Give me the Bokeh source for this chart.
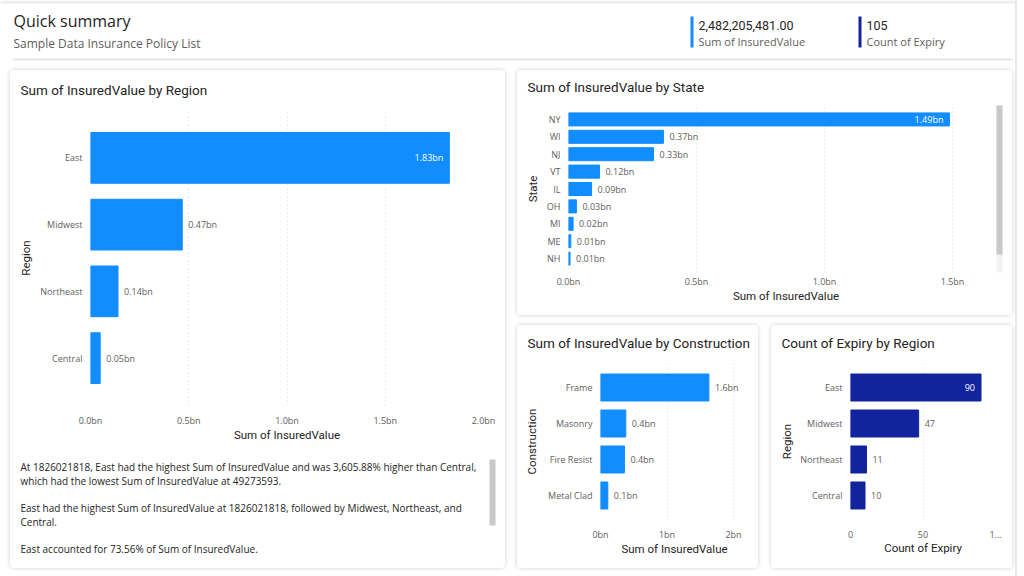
from bokeh.plotting import figure
from bokeh.layouts import column, row
from bokeh.models import FactorRange, Range1d, FixedTicker, CustomJSTickFormatter, ColumnDataSource
from bokeh.transform import dodge
from bokeh.core.properties import value
from bokeh.embed import file_html
from bokeh.resources import INLINE

# ---------------- data ----------------
region_names = ["East", "Midwest", "Northeast", "Central"]
region_values = [1826021818, 467000000, 139910070, 49273593]
region_ticks = [0, 0.5e9, 1.0e9, 1.5e9, 2.0e9]

state_names = ["NY", "WI", "NJ", "VT", "IL", "OH", "MI", "ME", "NH"]
state_values = [1.488e9, 0.371e9, 0.332e9, 0.121e9, 0.090e9, 0.031e9, 0.018e9, 0.009e9, 0.006e9]
state_ticks = [0, 0.5e9, 1.0e9, 1.5e9]

construction_names = ["Frame", "Masonry", "Fire Resist", "Metal Clad"]
construction_values = [1.63e9, 0.38e9, 0.36e9, 0.11e9]
construction_ticks = [0, 1e9, 2e9]

expiry_regions = ["East", "Midwest", "Northeast", "Central"]
expiry_counts = [90, 47, 11, 10]
expiry_ticks = [0, 50, 100]

kpi_count = 105

narrative_lines = [
    "At 1826021818, East had the highest Sum of InsuredValue and was 3,605.88% higher than Central,",
    "which had the lowest Sum of InsuredValue at 49273593.",
    "East had the highest Sum of InsuredValue at 1826021818, followed by Midwest, Northeast, and",
    "Central.",
    "East accounted for 73.56% of Sum of InsuredValue.",
]

BLUE = "#118DFF"
NAVY = "#12239E"
DARK = "#252423"
GRAY = "#605e5c"
TITLE_FONT = "Roboto"
BODY_FONT = "Open Sans"
CARD = {"box-shadow": "0 0 4px rgba(0,0,0,0.20)", "border-radius": "4px", "overflow": "hidden"}


def bar_chart(title, names, values, ticks, tick_code, label_fmt, color, x_label, y_label,
              width, height, borders, frame_px_per_unit, bar_h, pad, tick_standoff, ylab_standoff,
              xlab_standoff, title_center):
    left, right, top, bottom = borders
    frame_w = width - left - right
    x_end = frame_w / frame_px_per_unit
    p = figure(width=width, height=height, title=title,
               y_range=FactorRange(factors=list(reversed(names)), range_padding=pad,
                                   range_padding_units="absolute"),
               x_range=Range1d(0, x_end),
               output_backend="svg", toolbar_location=None,
               min_border_left=left, min_border_right=right,
               min_border_top=top, min_border_bottom=bottom)
    p.title.align = "left"
    p.title.vertical_align = "top"
    p.title.offset = 10 - left
    p.title.standoff = max(0, min(top - 18, 2 * (top - 2 - 8 - title_center)))
    p.title.text_font = TITLE_FONT
    p.title.text_font_size = "13.5px"
    p.title.text_font_style = "normal"
    p.title.text_color = DARK
    p.outline_line_color = None
    p.background_fill_color = "white"
    p.border_fill_color = "white"

    xa = p.xaxis[0]
    xa.ticker = FixedTicker(ticks=ticks)
    xa.formatter = CustomJSTickFormatter(code=tick_code)
    ya = p.yaxis[0]
    for ax in (xa, ya):
        ax.axis_line_color = None
        ax.major_tick_line_color = None
        ax.minor_tick_line_color = None
        ax.major_tick_out = 0
        ax.major_tick_in = 0
        ax.minor_tick_out = 0
        ax.major_label_text_font = BODY_FONT
        ax.major_label_text_font_size = "9px"
        ax.major_label_text_color = GRAY
        ax.axis_label_text_font = TITLE_FONT
        ax.axis_label_text_font_size = "11.5px"
        ax.axis_label_text_font_style = "normal"
        ax.axis_label_text_color = DARK
    xa.axis_label = x_label
    ya.axis_label = y_label
    xa.major_label_standoff = tick_standoff
    xa.axis_label_standoff = xlab_standoff
    ya.major_label_standoff = 8
    ya.axis_label_standoff = ylab_standoff

    p.xgrid.ticker = FixedTicker(ticks=ticks)
    p.xgrid.grid_line_color = "#d9d9d9"
    p.xgrid.grid_line_dash = "1 3"
    p.ygrid.grid_line_color = None

    src = ColumnDataSource(dict(name=names, val=values))
    p.hbar(y="name", left=0, right="val", height=bar_h, source=src,
           fill_color=color, line_color=color)

    limit = 0.85 * ticks[-1]
    inside = dict(name=[n for n, v in zip(names, values) if v > limit],
                  val=[v for v in values if v > limit],
                  lab=[label_fmt(v) for v in values if v > limit])
    outside = dict(name=[n for n, v in zip(names, values) if v <= limit],
                   val=[v for v in values if v <= limit],
                   lab=[label_fmt(v) for v in values if v <= limit])
    p.text(x="val", y="name", text="lab", source=ColumnDataSource(inside),
           text_align="right", text_baseline="middle", x_offset=-6,
           text_color="white", text_font=value(BODY_FONT), text_font_size="9px")
    p.text(x="val", y="name", text="lab", source=ColumnDataSource(outside),
           text_align="left", text_baseline="middle", x_offset=6,
           text_color=GRAY, text_font=value(BODY_FONT), text_font_size="9px")
    return p


bn1 = "return (tick/1e9).toFixed(1) + 'bn';"
bn0 = "return (tick/1e9).toFixed(0) + 'bn';"
cnt = "return tick >= 100 ? '1...' : tick.toString();"

# Region chart (left card, top part)
region_fig = bar_chart("Sum of InsuredValue by Region", region_names, region_values, region_ticks,
                       bn1, lambda v: f"{v/1e9:.2f}bn", BLUE, "Sum of InsuredValue", "Region",
                       495, 378, (80, 22, 40, 43), 393 / 2e9, 0.76, 0.21, 8, 4, -2, 16.5)

# State chart with a scrollbar drawn inside the frame area
state_px = 384 / 1.5e9
state_fig = bar_chart("Sum of InsuredValue by State", state_names, state_values, state_ticks,
                      bn1, lambda v: f"{v/1e9:.2f}bn", BLUE, "Sum of InsuredValue", "State",
                      495, 245, (51, 9, 35, 43), state_px, 0.75, 0.3, 2, 4, -2, 16.5)
sf_w = 495 - 51 - 9
sb = ColumnDataSource(dict(l=[(sf_w - 7) / state_px], r=[(sf_w - 1) / state_px],
                           t=[state_names[0]], b=[state_names[-1]]))
state_fig.quad(left="l", right="r", top=dodge("t", 1.0, range=state_fig.y_range),
               bottom=dodge("b", -1.0, range=state_fig.y_range), source=sb,
               fill_color="#f1f1f1", line_color=None)
state_fig.quad(left="l", right="r", top=dodge("t", 1.0, range=state_fig.y_range),
               bottom=dodge("b", 0.23, range=state_fig.y_range), source=sb,
               fill_color="#c8c8c8", line_color=None)

construction_fig = bar_chart("Sum of InsuredValue by Construction", construction_names, construction_values,
                             construction_ticks, bn0, lambda v: f"{v/1e9:.1f}bn", BLUE,
                             "Sum of InsuredValue", "Construction",
                             241, 243, (83, 10, 37, 48), 133 / 2e9, 0.75, 0.195, 7, 6, -2, 16.5)

expiry_fig = bar_chart("Count of Expiry by Region", expiry_regions, expiry_counts, expiry_ticks,
                       cnt, lambda v: f"{v}", NAVY, "Count of Expiry", "Region",
                       241, 243, (79, 17, 37, 48), 145 / 100, 0.75, 0.195, 10, 3, 0, 16.5)


def blank(w, h):
    f = figure(width=w, height=h, x_range=Range1d(0, w), y_range=Range1d(h, 0),
               x_axis_location=None, y_axis_location=None, min_border=0,
               toolbar_location=None, output_backend="svg")
    f.grid.visible = False
    f.outline_line_color = None
    f.background_fill_color = "white"
    f.border_fill_color = "white"
    return f


# Narrative (left card, bottom part)
narr = blank(495, 120)
narr.text(x=[10] * 5, y=[18, 32, 59, 73, 100], text=narrative_lines,
          text_font=value(BODY_FONT), text_font_size="10px", text_color=DARK, text_baseline="middle")
narr.quad(left=[479], right=[485], top=[11], bottom=[77], fill_color="#c8c8c8", line_color=None)

# Header
header = blank(1015, 66)
header.quad(left=[0], right=[1015], top=[0], bottom=[3], fill_color="#eeeeee", line_color=None)
header.text(x=[13], y=[20], text=["Quick summary"], text_font=value(BODY_FONT),
            text_font_size="16px", text_color=DARK, text_baseline="middle")
header.text(x=[13], y=[43], text=["Sample Data Insurance Policy List"], text_font=value(BODY_FONT),
            text_font_size="12px", text_color=GRAY, text_baseline="middle")
kpi_values = [f"{sum(region_values):,.2f}", f"{kpi_count}"]
kpi_labels = ["Sum of InsuredValue", "Count of Expiry"]
kpi_colors = [BLUE, NAVY]
kpi_x = [690, 858]
header.quad(left=kpi_x, right=[x + 3 for x in kpi_x], top=[16] * 2, bottom=[47] * 2,
            fill_color=kpi_colors, line_color=None)
header.text(x=[x + 8 for x in kpi_x], y=[25] * 2, text=kpi_values, text_font=value(TITLE_FONT),
            text_font_size="12.5px", text_color=DARK, text_baseline="middle")
header.text(x=[x + 8 for x in kpi_x], y=[41] * 2, text=kpi_labels, text_font=value(BODY_FONT),
            text_font_size="11px", text_color=GRAY, text_baseline="middle")
header.quad(left=[12], right=[1012], top=[58], bottom=[60], fill_color="#e6e6e6", line_color=None)

left_card = column(region_fig, row(narr), margin=(4, 0, 0, 10), styles=CARD)
state_fig.styles = CARD
construction_fig.styles = CARD
expiry_fig.styles = CARD
expiry_fig.margin = (0, 0, 0, 13)
bottom_row = row(construction_fig, expiry_fig, margin=(10, 0, 0, 0))
right_col = column(state_fig, bottom_row, margin=(4, 0, 0, 12))
body = row(left_card, right_col)

root = column(header, body, width=1024, height=576,
              styles={"background": "linear-gradient(to right, #ffffff 1015px, #e8e8e8 1015px, "
                                    "#e8e8e8 1017px, #ffffff 1017px)"})

open("out.html", "w").write(file_html(root, INLINE))
